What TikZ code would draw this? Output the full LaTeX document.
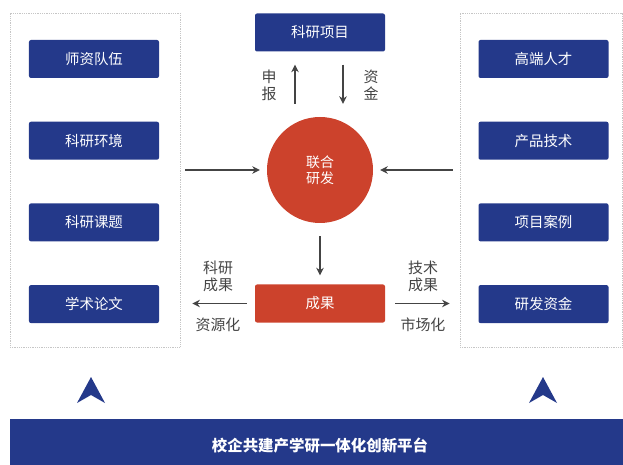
\documentclass[tikz,border=0pt]{standalone}
\usepackage{fontspec}
\setmainfont{Noto Sans CJK SC}
\usetikzlibrary{arrows.meta}
\definecolor{navy}{RGB}{36,57,138}
\definecolor{brick}{RGB}{204,66,44}
\definecolor{ink}{RGB}{68,68,68}
\begin{document}
\begin{tikzpicture}[x=1bp,y=-1bp,
  blk/.style={fill=navy,rounded corners=2bp,minimum width=130bp,minimum height=38bp,inner sep=0pt,text=white,font=\fontsize{14.5}{16}\selectfont},
  frame/.style={draw=gray!45,densely dotted,line width=0.8bp,minimum width=#1,minimum height=334bp,inner sep=0pt},
  arr/.style={draw=ink,line width=1.3bp,-{Stealth[length=7.5bp,width=7.5bp]}},
  lbl/.style={text=ink,align=center,font=\fontsize{15}{17}\selectfont}]
\useasboundingbox (0,0) rectangle (623,465);
% the two columns
\node[frame=170bp] (L) at (95,180) {};
\node[frame=162bp] (R) at (541,180) {};
\foreach \t [count=\i] in {师资队伍,科研环境,科研课题,学术论文}
	\node[blk] (l\i) at (94,{59+81.7*(\i-1)}) {\t};
\foreach \t [count=\i] in {高端人才,产品技术,项目案例,研发资金}
	\node[blk] (r\i) at (543.5,{59+81.7*(\i-1)}) {\t};
% middle
\node[blk] (xm) at (320,32.5) {科研项目};
\node[circle,fill=brick,minimum size=106bp,inner sep=0pt,text=white,align=center,font=\fontsize{14}{16.5}\selectfont] (hub) at (320,170) {联合\\研发};
\node[blk,fill=brick] (cg) at (320,303.5) {成果};
\draw[arr,shorten <=13bp,shorten >=13bp] ([xshift=-25bp]hub.north) -- ([xshift=-25bp]xm.south);
\draw[arr,shorten <=13bp,shorten >=13bp] ([xshift=23bp]xm.south) -- ([xshift=23bp]hub.north);
\node[lbl] (sb) at (269,85) {申\\报};
\node[lbl] (zj) at (371,85) {资\\金};
\draw[arr,shorten <=5bp,shorten >=7bp] (L.east |- hub.west) -- (hub.west);
\draw[arr,shorten <=7bp,shorten >=7bp] (R.west |- hub.east) -- (hub.east);
\draw[arr,shorten <=13bp,shorten >=9bp] (hub.south) -- (cg.north);
\draw[arr,shorten <=8bp,shorten >=12bp] (cg.west) -- (cg.west -| L.east);
\draw[arr,shorten <=10bp,shorten >=10bp] (cg.east) -- (cg.east -| R.west);
\node[lbl] (kycg) at (218,276) {科研\\成果};
\node[lbl] (zyh) at (218,325) {资源化};
\node[lbl] (jscg) at (423,276) {技术\\成果};
\node[lbl] (sch) at (423,325) {市场化};
% base
\foreach \x in {91,543}
	\fill[navy] (\x,377) -- (\x+14,403) -- (\x,395) -- (\x-14,403) -- cycle;
\node[fill=navy,minimum width=613bp,minimum height=46bp,inner sep=0pt] (base) at (316.5,442) {};
\node[text=white,font=\bfseries\fontsize{15.5}{17}\selectfont] (pf) at (320,446) {校企共建产学研一体化创新平台};
\end{tikzpicture}
\end{document}
